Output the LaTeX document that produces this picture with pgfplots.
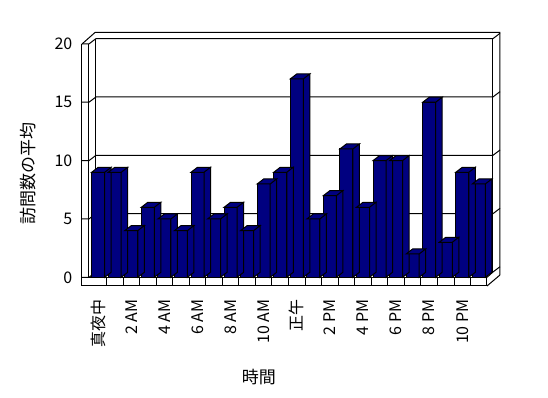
\documentclass[border=0pt]{standalone}
\usepackage{pgfplots}
\pgfplotsset{compat=1.18}
\usepackage{pgfplotstable}
\usepackage{fontspec}
\setmainfont{Noto Sans CJK JP}
\definecolor{navy}{HTML}{000080}
\pgfplotstableread{
h v
0 9
1 9
2 4
3 6
4 5
5 4
6 9
7 5
8 6
9 4
10 8
11 9
12 17
13 5
14 7
15 11
16 6
17 10
18 10
19 2
20 15
21 3
22 9
23 8
}\visits
\pgfdeclareplotmark{barside}{%
  \pgfmathsetlengthmacro\bh{\rawy*11.67bp}%
  \pgfpathmoveto{\pgfqpoint{-6.5bp}{0pt}}%
  \pgfpathlineto{\pgfqpoint{0bp}{5bp}}%
  \pgfpathlineto{\pgfqpoint{13bp}{5bp}}%
  \pgfpathlineto{\pgfqpoint{6.5bp}{0pt}}%
  \pgfpathclose
  \pgfpathmoveto{\pgfqpoint{6.5bp}{0pt}}%
  \pgfpathlineto{\pgfqpoint{13bp}{5bp}}%
  \pgfpathlineto{\pgfpoint{13bp}{5bp-\bh}}%
  \pgfpathlineto{\pgfpoint{6.5bp}{-\bh}}%
  \pgfpathclose
  \pgfusepathqfillstroke
}
\begin{document}
\begin{tikzpicture}
% 3D frame in pixel coordinates
\begin{scope}[shift={(-98.2bp,277.3bp)}, x=1bp, y=-1bp, line width=1bp]
  % back wall
  \draw (96,38.6) -- (96,272);
  \draw (493,38.6) -- (493,272);
  \foreach \v in {0,5,10,15,20} {
    \pgfmathsetmacro\yb{272-11.67*\v}
    \pgfmathsetmacro\yf{277.3-11.67*\v}
    \draw (96,\yb) -- (493,\yb) -- ({500},{\yb-5.3});
    \draw (82,\yf) -- (89,\yf) -- (96,\yb);
  }
  % top and right outer edges
  \draw (82,44) -- (95,32.5) -- (500,32.5) -- (500,275);
  % left wall
  \draw (82,44) -- (82,286);
  \draw (89,44) -- (89,277.3);
  % floor
  \draw (82,286) -- (487,286) -- (487,277.3) -- (89,277.3);
  \foreach \k in {0,...,22} {
    \draw ({106.5+16.55*\k},277.3) -- ({106.5+16.55*\k},286);
  }
  \draw (487,286) -- (500,275);
  \draw (487,277.3) -- (493,272);
\end{scope}
\begin{axis}[
  anchor=origin, at={(0,0)},
  x=16.55bp, y=11.67bp,
  xmin=-0.985, xmax=24.27, ymin=-0.745, ymax=21,
  clip=false,
  axis line style={draw=none},
  major tick length=0pt,
  tick style={draw=none},
  xtick={0,2,...,22},
  xticklabels={真夜中,2 AM,4 AM,6 AM,8 AM,10 AM,正午,2 PM,4 PM,6 PM,8 PM,10 PM},
  ytick={0,5,10,15,20},
  xtick pos=bottom, ytick pos=left,
  /pgf/number format/assume math mode=true,
  tick label style={font=\fontsize{16bp}{18bp}\selectfont},
  xticklabel style={rotate=90, anchor=east},
  xticklabel shift=10bp,
  yticklabel shift=6bp,
  xlabel={時間},
  ylabel={訪問数の平均},
  label style={font=\fontsize{17bp}{19bp}\selectfont},
  xlabel style={at={(axis cs:9.71,-8.54)}, anchor=center},
  ylabel style={at={(axis cs:-4.248,8.937)}, anchor=center},
]
\addplot[only marks, mark=barside, line width=1bp,
  scatter, scatter/use mapped color={draw=black, fill=navy},
  visualization depends on={rawy \as \rawy}]
  table[x=h, y=v] {\visits};
\addplot[ybar, bar width=13bp, fill=navy, draw=black, line width=1bp]
  table[x=h, y=v] {\visits};
\end{axis}
\pgfresetboundingbox
\path[use as bounding box] (-98.2bp,277.3bp) rectangle (449.8bp,-120.7bp);
\end{tikzpicture}
\end{document}
